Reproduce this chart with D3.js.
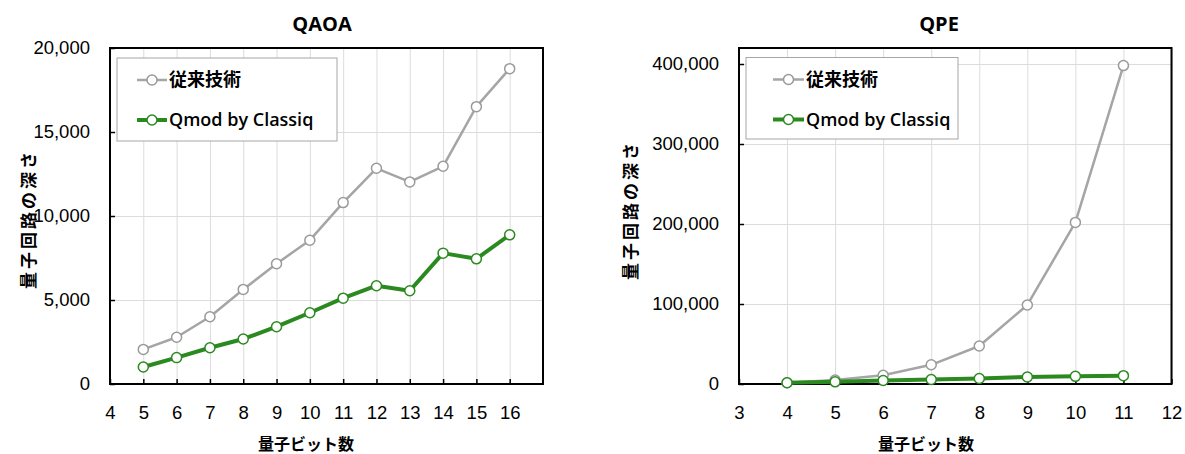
<!DOCTYPE html>
<html><head><meta charset="utf-8">
<script src="https://cdn.jsdelivr.net/npm/d3@7/dist/d3.min.js"></script>
<style>
body{margin:0;background:#fff;}
svg{display:block;font-family:'Open Sans','Noto Sans CJK JP',sans-serif;}
</style></head><body>
<svg id="chart" width="1185" height="454"></svg>
<script>
// ---- data ----
const seriesNames = ["従来技術", "Qmod by Classiq"];
const qaoaQubits = [5, 6, 7, 8, 9, 10, 11, 12, 13, 14, 15, 16];
const qaoaConventional = [2060, 2780, 4000, 5630, 7160, 8560, 10800, 12840, 12030, 12960, 16510, 18770];
const qaoaQmod = [1010, 1570, 2160, 2680, 3410, 4240, 5110, 5850, 5550, 7790, 7450, 8880];
const qaoaXTicks = [4, 5, 6, 7, 8, 9, 10, 11, 12, 13, 14, 15, 16];
const qaoaYTicks = [0, 5000, 10000, 15000, 20000];

const qpeQubits = [4, 5, 6, 7, 8, 9, 10, 11];
const qpeConventional = [1500, 5000, 11000, 24000, 47500, 98800, 202000, 398000];
const qpeQmod = [1500, 2700, 4400, 5600, 6900, 8800, 9600, 10400];
const qpeXTicks = [3, 4, 5, 6, 7, 8, 9, 10, 11, 12];
const qpeYTicks = [0, 100000, 200000, 300000, 400000];

const xLabel = "量子ビット数";
const yLabel = "量子回路の深さ";

// ---- layout / style ----
const grayColor = "#a5a5a5", grayMarker = "#9a9a9a", greenColor = "#2b8a1f";
const svg = d3.select("#chart");

const charts = [
  {title: "QAOA", xs: qaoaQubits, conv: qaoaConventional, qmod: qaoaQmod,
   xTicks: qaoaXTicks, yTicks: qaoaYTicks, xDomain: [4, 17], yDomain: [0, 20000],
   left: 110, right: 543, top: 48, bottom: 384,
   titleX: 322, xLabelX: 306, yLabelX: 29, yLabelY: 219,
   legend: {x: 117, y: 58, w: 220, h: 83, lineX0: 137, lineX1: 167, textX: 169}},
  {title: "QPE", xs: qpeQubits, conv: qpeConventional, qmod: qpeQmod,
   xTicks: qpeXTicks, yTicks: qpeYTicks, xDomain: [3, 12], yDomain: [0, 420000],
   left: 739, right: 1171.5, top: 48, bottom: 384,
   titleX: 939, xLabelX: 926, yLabelX: 631, yLabelY: 210,
   legend: {x: 746, y: 57.5, w: 212, h: 81.5, lineX0: 773, lineX1: 804, textX: 806}}
];

charts.forEach(c => {
  const g = svg.append("g");
  const x = d3.scaleLinear().domain(c.xDomain).range([c.left, c.right]);
  const y = d3.scaleLinear().domain(c.yDomain).range([c.bottom, c.top]);
  const W = c.right - c.left, H = c.bottom - c.top;

  // gridlines
  g.append("g").attr("transform", `translate(0,${c.bottom})`)
    .call(d3.axisBottom(x).tickValues(c.xTicks.concat([c.xDomain[1]])).tickSize(-H).tickFormat(""))
    .call(a => a.select(".domain").remove())
    .call(a => a.selectAll("line").attr("stroke", "#dcdcdc").attr("stroke-width", 1));
  g.append("g").attr("transform", `translate(${c.left},0)`)
    .call(d3.axisLeft(y).tickValues(c.yTicks).tickSize(-W).tickFormat(""))
    .call(a => a.select(".domain").remove())
    .call(a => a.selectAll("line").attr("stroke", "#dcdcdc").attr("stroke-width", 1));

  // frame
  g.append("rect").attr("x", c.left).attr("y", c.top).attr("width", W).attr("height", H)
    .attr("fill", "none").attr("stroke", "#000").attr("stroke-width", 2);

  // axes with inside ticks
  const xa = g.append("g").attr("transform", `translate(0,${c.bottom})`)
    .call(d3.axisBottom(x).tickValues(c.xTicks).tickSize(-5).tickPadding(35).tickFormat(d3.format("d")));
  xa.select(".domain").remove();
  xa.selectAll("line").attr("stroke", "#000").attr("stroke-width", 1.5);
  xa.selectAll("text").attr("font-size", 18.5).attr("fill", "#000").attr("dy", "0");
  const ya = g.append("g").attr("transform", `translate(${c.left},0)`)
    .call(d3.axisLeft(y).tickValues(c.yTicks).tickSize(-5).tickPadding(20).tickFormat(d3.format(",")));
  ya.select(".domain").remove();
  ya.selectAll("line").attr("stroke", "#000").attr("stroke-width", 1.5);
  ya.selectAll("text").attr("font-size", 18.5).attr("fill", "#000");

  // titles and axis labels
  g.append("text").attr("x", c.titleX).attr("y", 31).attr("text-anchor", "middle")
    .attr("font-size", 20).attr("font-weight", 700).attr("fill", "#000").text(c.title);
  g.append("text").attr("x", c.xLabelX).attr("y", 450).attr("text-anchor", "middle")
    .attr("font-size", 16).attr("font-weight", 700).attr("fill", "#000").text(xLabel);
  g.append("text").attr("transform", `translate(${c.yLabelX + 6},${c.yLabelY}) rotate(-90)`)
    .attr("text-anchor", "middle").attr("font-size", 17).attr("letter-spacing", 3)
    .attr("font-weight", 700).attr("fill", "#000").text(yLabel);

  // series
  const series = [
    {vals: c.conv, color: grayColor, mk: grayMarker, w: 2.5},
    {vals: c.qmod, color: greenColor, mk: greenColor, w: 4}
  ];
  const line = d3.line().x(d => x(d[0])).y(d => y(d[1]));
  series.forEach(s => {
    const pts = c.xs.map((q, i) => [q, s.vals[i]]);
    g.append("path").datum(pts).attr("d", line).attr("fill", "none")
      .attr("stroke", s.color).attr("stroke-width", s.w).attr("stroke-linejoin", "round");
    g.selectAll(null).data(pts).enter().append("circle")
      .attr("cx", d => x(d[0])).attr("cy", d => y(d[1])).attr("r", 5)
      .attr("fill", "#fff").attr("stroke", s.mk).attr("stroke-width", 1.5);
  });

  // legend
  const L = c.legend;
  const lg = g.append("g");
  lg.append("rect").attr("x", L.x).attr("y", L.y).attr("width", L.w).attr("height", L.h)
    .attr("fill", "#fff").attr("stroke", "#a6a6a6").attr("stroke-width", 1);
  const rows = [L.y + 22, L.y + 62];
  series.forEach((s, i) => {
    lg.append("line").attr("x1", L.lineX0).attr("x2", L.lineX1).attr("y1", rows[i]).attr("y2", rows[i])
      .attr("stroke", s.color).attr("stroke-width", s.w);
    lg.append("circle").attr("cx", (L.lineX0 + L.lineX1) / 2).attr("cy", rows[i]).attr("r", 5)
      .attr("fill", "#fff").attr("stroke", s.mk).attr("stroke-width", 1.5);
    lg.append("text").attr("x", L.textX).attr("y", rows[i]).attr("dy", "0.36em")
      .attr("font-size", 18).attr("font-weight", 600).attr("fill", "#000").text(seriesNames[i]);
  });
});
</script>
</body></html>
